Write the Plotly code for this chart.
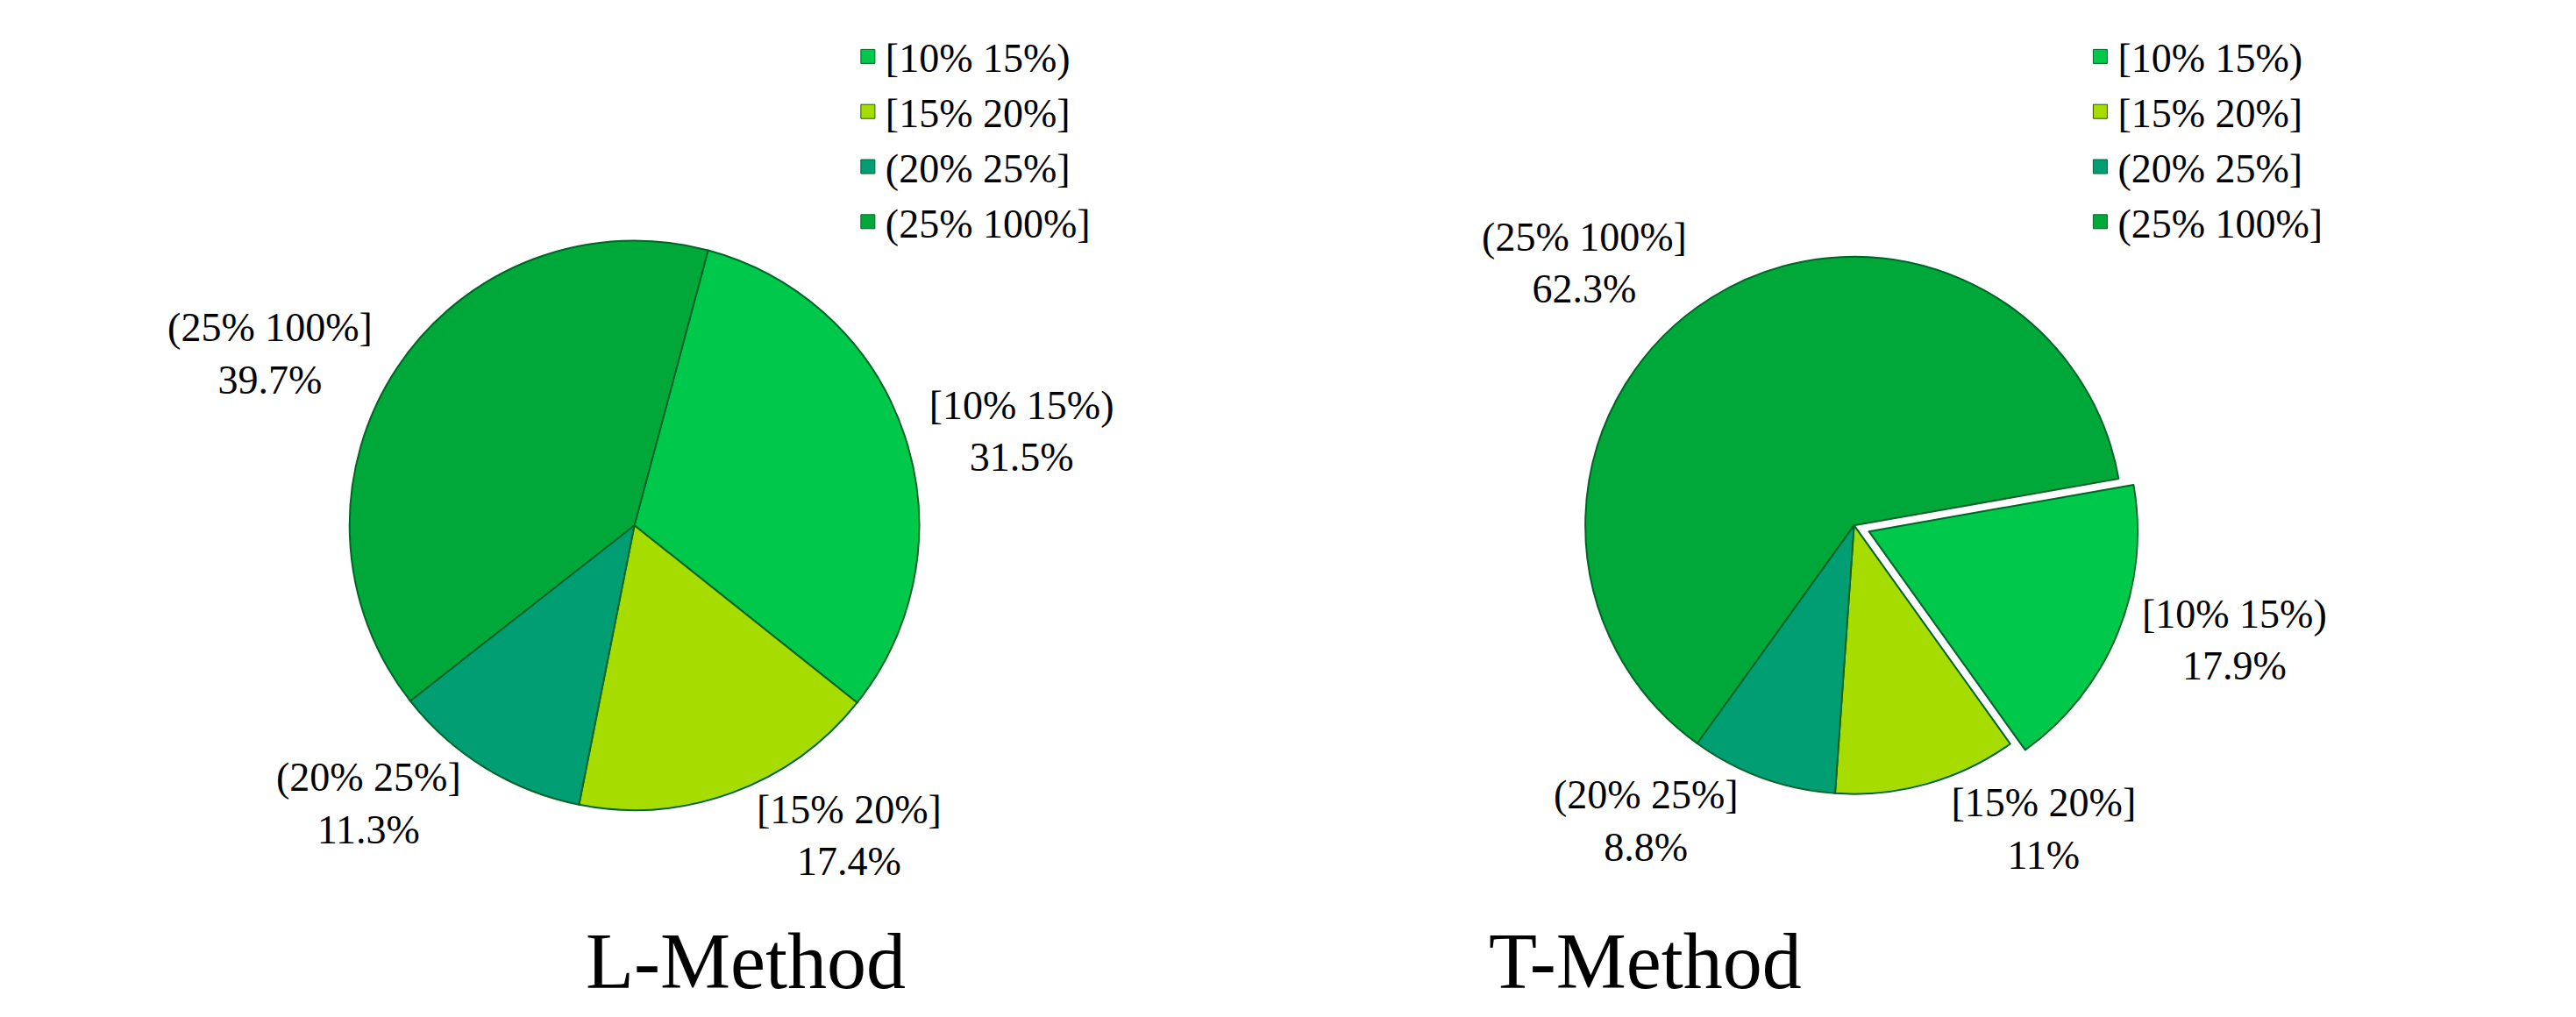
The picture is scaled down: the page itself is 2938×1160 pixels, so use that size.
import plotly.graph_objects as go

categories = ["[10% 15%)", "[15% 20%]", "(20% 25%]", "(25% 100%]"]
l_values = [31.5, 17.4, 11.3, 39.7]
l_text = ["31.5%", "17.4%", "11.3%", "39.7%"]
t_values = [17.9, 11.0, 8.8, 62.3]
t_text = ["17.9%", "11%", "8.8%", "62.3%"]
colors = ["#00C84B", "#A6DC00", "#009E72", "#00A83A"]

font = "Liberation Serif"

fig = go.Figure()
fig.add_trace(go.Pie(
    labels=categories, values=l_values, customdata=l_text,
    sort=False, direction="clockwise", rotation=15,
    marker=dict(colors=colors, line=dict(color="#006428", width=2)),
    texttemplate="%{label}<br>%{customdata}", textposition="outside",
    textfont=dict(size=46, color="black", family=font),
    domain=dict(x=[0.12, 0.36], y=[0.2, 0.78]),
    showlegend=False, hoverinfo="label+percent",
))
fig.add_trace(go.Pie(
    labels=categories, values=t_values, customdata=t_text,
    sort=False, direction="clockwise", rotation=80,
    pull=[0.06, 0, 0, 0],
    marker=dict(colors=colors, line=dict(color="#006428", width=2)),
    texttemplate="%{label}<br>%{customdata}", textposition="outside",
    textfont=dict(size=46, color="black", family=font),
    domain=dict(x=[0.60, 0.84], y=[0.2, 0.78]),
    showlegend=False, hoverinfo="label+percent",
))

# legend entries for each chart
for lg in ["legend", "legend2"]:
    for cat, col in zip(categories, colors):
        fig.add_trace(go.Scatter(
            x=[None], y=[None], mode="markers", name=cat, legend=lg,
            marker=dict(symbol="square", size=40, color=col,
                        line=dict(color="#006428", width=1)),
        ))

leg = dict(font=dict(size=46, family=font, color="black"),
           bgcolor="rgba(0,0,0,0)", traceorder="normal",
           yanchor="top", xanchor="left", y=1.0, itemsizing="trace")
fig.update_layout(
    width=2938, height=1160,
    paper_bgcolor="white", plot_bgcolor="white",
    margin=dict(l=20, r=20, t=20, b=20),
    xaxis=dict(visible=False), yaxis=dict(visible=False),
    legend=dict(leg, x=0.325),
    legend2=dict(leg, x=0.81),
    annotations=[
        dict(text="L-Method", x=0.22, y=0.0, xref="paper", yref="paper",
             yanchor="bottom", showarrow=False,
             font=dict(size=90, family=font, color="black")),
        dict(text="T-Method", x=0.7, y=0.0, xref="paper", yref="paper",
             yanchor="bottom", showarrow=False,
             font=dict(size=90, family=font, color="black")),
    ],
)

fig.write_html("out.html")
